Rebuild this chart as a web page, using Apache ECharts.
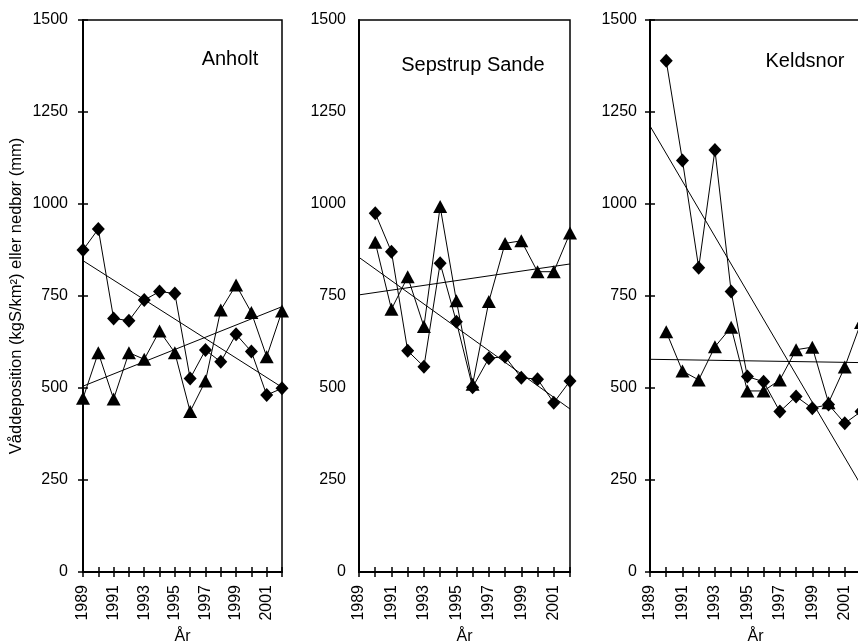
<!DOCTYPE html>
<html>
<head>
<meta charset="utf-8">
<script src="https://cdn.jsdelivr.net/npm/echarts@6/dist/echarts.min.js"></script>
<style>
html,body{margin:0;padding:0;background:#fff;}
#chart{width:858px;height:641px;}
</style>
</head>
<body>
<div id="chart"></div>
<script>
// ---- data ----
const stations = ['Anholt', 'Sepstrup Sande', 'Keldsnor'];
const yTicks = [0, 250, 500, 750, 1000, 1250, 1500];
const xAxisName = 'År';
const yAxisName = 'Våddeposition (kgS/km²) eller nedbør (mm)';

const anholtYears = [1989, 1990, 1991, 1992, 1993, 1994, 1995, 1996, 1997, 1998, 1999, 2000, 2001, 2002];
const anholtDiamond = [875, 932, 689, 683, 739, 762, 757, 526, 603, 571, 646, 599, 481, 499];
const anholtTriangle = [472, 596, 470, 596, 578, 655, 596, 436, 519, 712, 780, 705, 585, 709];
const anholtTrendDiamond = [846, 502];
const anholtTrendTriangle = [505, 721];

const sepstrupYears = [1990, 1991, 1992, 1993, 1994, 1995, 1996, 1997, 1998, 1999, 2000, 2001, 2002];
const sepstrupDiamond = [975, 870, 601, 558, 839, 680, 502, 581, 585, 528, 524, 460, 519];
const sepstrupTriangle = [896, 714, 802, 667, 993, 737, 510, 735, 893, 900, 816, 816, 921];
const sepstrupTrendDiamond = [855, 443];
const sepstrupTrendTriangle = [753, 837];

const keldsnorYears = [1990, 1991, 1992, 1993, 1994, 1995, 1996, 1997, 1998, 1999, 2000, 2001, 2002];
const keldsnorDiamond = [1389, 1118, 827, 1147, 762, 531, 517, 436, 477, 445, 455, 404, 436];
const keldsnorTriangle = [653, 546, 522, 612, 665, 492, 492, 522, 604, 611, 460, 557, 678];
const keldsnorTrendDiamond = [1212, 236];
const keldsnorTrendTriangle = [578, 569];

const trendYears = [1989, 2002];

// ---- layout ----
const FONT = '"Liberation Sans", Arial, Helvetica, sans-serif';
const grids = [
  {left: 83, top: 20, width: 199, height: 552},
  {left: 359, top: 20, width: 211, height: 552},
  {left: 650, top: 20, width: 211, height: 552}
];
const yTickCross = [true, false, true];
const yLabelMargin = [15, 13, 13];

const panels = [
  {years: anholtYears, dia: anholtDiamond, tri: anholtTriangle, td: anholtTrendDiamond, tt: anholtTrendTriangle},
  {years: sepstrupYears, dia: sepstrupDiamond, tri: sepstrupTriangle, td: sepstrupTrendDiamond, tt: sepstrupTrendTriangle},
  {years: keldsnorYears, dia: keldsnorDiamond, tri: keldsnorTriangle, td: keldsnorTrendDiamond, tt: keldsnorTrendTriangle}
];

const zip = (xs, ys) => xs.map((x, i) => [x, ys[i]]);

const xAxes = [], yAxes = [], series = [], graphics = [];
const yMin = yTicks[0], yMax = yTicks[yTicks.length - 1], yStep = yTicks[1] - yTicks[0];
const xMin = trendYears[0], xMax = trendYears[1];

grids.forEach((g, i) => {
  xAxes.push({
    type: 'value', gridIndex: i, min: xMin, max: xMax, interval: 1, position: 'bottom',
    name: xAxisName, nameLocation: 'middle', nameGap: 56,
    nameTextStyle: {fontFamily: FONT, fontSize: 16, color: '#000'},
    axisLine: {show: true, lineStyle: {color: '#000', width: 2}},
    axisTick: {show: true, inside: false, length: 5, lineStyle: {color: '#000', width: 1.5}},
    axisLabel: {
      show: true, rotate: 90, margin: 13, fontFamily: FONT, fontSize: 16, color: '#000',
      formatter: v => ((v - xMin) % 2 === 0 && v < xMax) ? String(v) : ''
    },
    splitLine: {show: false}
  });
  xAxes.push({
    type: 'value', gridIndex: i, min: xMin, max: xMax, interval: 1, position: 'bottom',
    axisLine: {show: false},
    axisTick: {show: true, inside: true, length: 5, lineStyle: {color: '#000', width: 1.5}},
    axisLabel: {show: false}, splitLine: {show: false}
  });
  const yMain = {
    type: 'value', gridIndex: i, min: yMin, max: yMax, interval: yStep, position: 'left',
    axisLine: {show: true, lineStyle: {color: '#000', width: 2}},
    axisTick: {show: yTickCross[i], inside: false, length: 5, lineStyle: {color: '#000', width: 1.5}},
    axisLabel: {show: true, margin: yLabelMargin[i], fontFamily: FONT, fontSize: 16, color: '#000',
      formatter: v => String(v)},
    splitLine: {show: false}
  };
  if (i === 0) {
    yMain.name = yAxisName;
    yMain.nameLocation = 'middle';
    yMain.nameRotate = 90;
    yMain.nameGap = 58;
    yMain.nameTextStyle = {fontFamily: FONT, fontSize: 16.5, color: '#000'};
  }
  yAxes.push(yMain);
  yAxes.push({
    type: 'value', gridIndex: i, min: yMin, max: yMax, interval: yStep, position: 'left',
    axisLine: {show: false},
    axisTick: {show: yTickCross[i], inside: true, length: 5, lineStyle: {color: '#000', width: 1.5}},
    axisLabel: {show: false}, splitLine: {show: false}
  });

  const p = panels[i];
  const xi = i * 2, yi = i * 2;
  const lineStyle = {color: '#000', width: 1};
  series.push({
    type: 'line', xAxisIndex: xi, yAxisIndex: yi, data: zip(trendYears, p.td),
    symbol: 'none', lineStyle: lineStyle, silent: true, z: 2
  });
  series.push({
    type: 'line', xAxisIndex: xi, yAxisIndex: yi, data: zip(trendYears, p.tt),
    symbol: 'none', lineStyle: lineStyle, silent: true, z: 2
  });
  series.push({
    type: 'line', xAxisIndex: xi, yAxisIndex: yi, data: zip(p.years, p.dia),
    symbol: 'diamond', symbolSize: [13, 14], showAllSymbol: true,
    lineStyle: lineStyle, itemStyle: {color: '#000', borderWidth: 0}, z: 3
  });
  series.push({
    type: 'line', xAxisIndex: xi, yAxisIndex: yi, data: zip(p.years, p.tri),
    symbol: 'triangle', symbolSize: [14, 13], showAllSymbol: true,
    lineStyle: lineStyle, itemStyle: {color: '#000', borderWidth: 0}, z: 4
  });
});

const titlePos = [[230, 59], [473, 65], [805, 61]];
stations.forEach((s, i) => {
  graphics.push({
    type: 'text', x: titlePos[i][0], y: titlePos[i][1], z: 10,
    style: {text: s, fontFamily: FONT, fontSize: 20, fill: '#000', align: 'center', verticalAlign: 'middle'}
  });
});

const chart = echarts.init(document.getElementById('chart'), null, {renderer: 'canvas'});
chart.setOption({
  animation: false,
  backgroundColor: '#fff',
  grid: grids.map(g => Object.assign({show: true, borderColor: '#000', borderWidth: 1.5, backgroundColor: 'transparent', containLabel: false, outerBoundsMode: 'none'}, g)),
  xAxis: xAxes,
  yAxis: yAxes,
  series: series,
  graphic: graphics
});
</script>
</body>
</html>
